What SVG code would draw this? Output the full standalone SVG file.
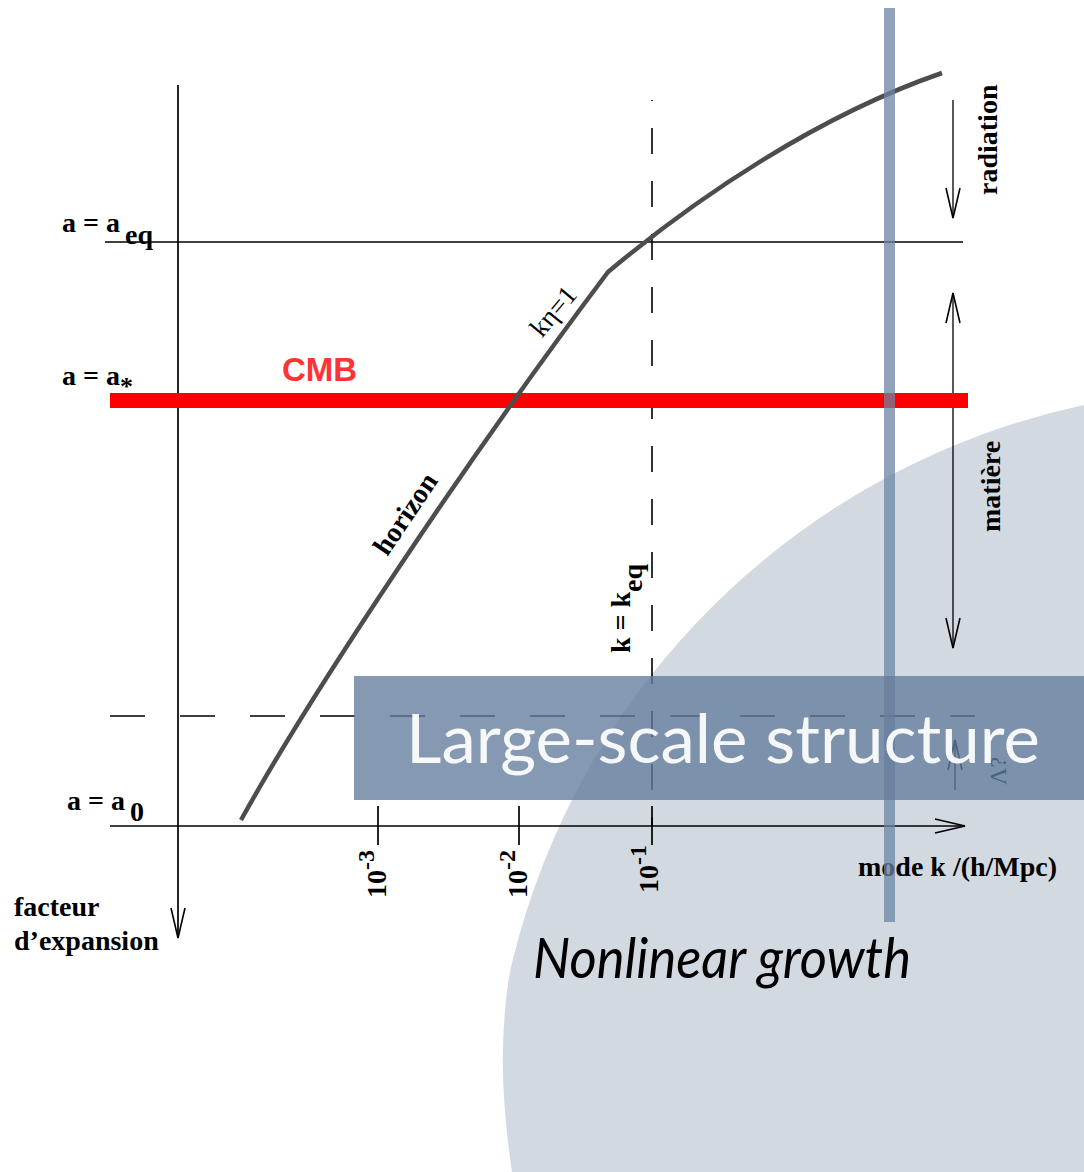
<svg xmlns="http://www.w3.org/2000/svg" width="1084" height="1172" viewBox="0 0 1084 1172">
<style>
.lbl{font-family:"Liberation Serif","Times New Roman",serif;font-weight:bold;font-size:28px;fill:#000}
.thin{stroke:#000;stroke-width:1.3;fill:none}
.ax{stroke:#000;stroke-width:1.7;fill:none}
.dash{stroke:#000;stroke-width:1.6;fill:none}
.gill{font-family:Lato,"Open Sans",sans-serif}
.sup{font-size:24px}
</style>
<defs>
<marker id="vee" markerUnits="userSpaceOnUse" viewBox="-32 -10 34 20" markerWidth="34" markerHeight="20" refX="0" refY="0" orient="auto-start-reverse" overflow="visible">
<path d="M-30,-7 L0,0 L-30,7" fill="none" stroke="#000" stroke-width="1.6"/>
</marker>
</defs>
<rect width="1084" height="1172" fill="#fff"/>
<g id="nonlinear-region">
<path d="M1084,405 A750,750 0 0 0 512,963 C505,992 502,1040 503,1075 C504,1110 508,1145 512,1172 L1084,1172 Z" fill="#d3d9e1"/>
</g>
<g id="connectors">
<line class="ax" x1="178" y1="85" x2="178" y2="938" marker-end="url(#vee)"/>
<line class="ax" x1="110" y1="826" x2="965" y2="826" marker-end="url(#vee)"/>
<line class="thin" x1="105" y1="242" x2="963" y2="242"/>
<line class="dash" x1="652" y1="100" x2="652" y2="826" stroke-dasharray="26 27" stroke-dashoffset="25"/>
<line class="dash" x1="110" y1="716" x2="975" y2="716" stroke-dasharray="35 35"/>
<line class="ax" x1="378" y1="806" x2="378" y2="845"/>
<line class="ax" x1="519" y1="806" x2="519" y2="845"/>
<line class="ax" x1="652" y1="806" x2="652" y2="845"/>
<line class="thin" x1="953" y1="100" x2="953" y2="218" marker-end="url(#vee)"/>
<line class="thin" x1="953" y1="293" x2="953" y2="648" marker-start="url(#vee)" marker-end="url(#vee)"/>
<line class="thin" x1="955" y1="790" x2="955" y2="740" marker-end="url(#vee)"/>
</g>
<g id="cmb-band">
<rect x="110" y="393" width="858" height="15" fill="#ff0000"/>
<text x="282" y="381" font-family="'Liberation Sans',Arial,sans-serif" font-weight="bold" font-size="33" fill="#ff3333">CMB</text>
</g>
<g id="horizon-curve">
<path d="M241,820 C310,695 470,455 608,272 C700,195 820,115 942,73" fill="none" stroke="#4d4d4d" stroke-width="4.5" stroke-linejoin="round"/>
<text class="lbl" transform="translate(413,519) rotate(-56)" text-anchor="middle">horizon</text>
<text transform="translate(560,317) rotate(-50)" text-anchor="middle" font-family="'Liberation Serif','Times New Roman',serif" font-size="27">kη=1</text>
</g>
<g id="axis-labels">
<text class="lbl" x="62" y="232">a = a<tspan x="125" y="244">eq</tspan></text>
<text class="lbl" x="62" y="385">a = a<tspan x="120" y="395" font-size="26">*</tspan></text>
<text class="lbl" x="67" y="810">a = a<tspan x="130" y="821">0</tspan></text>
<text class="lbl" x="14" y="916">facteur</text>
<text class="lbl" x="14" y="950">d’expansion</text>
<text class="lbl" x="858" y="876">mode k /(h/Mpc)</text>
<text class="lbl" transform="translate(386,898) rotate(-90)">10<tspan class="sup" dy="-12">-3</tspan></text>
<text class="lbl" transform="translate(527,898) rotate(-90)">10<tspan class="sup" dy="-12">-2</tspan></text>
<text class="lbl" transform="translate(658,893) rotate(-90)">10<tspan class="sup" dy="-12">-1</tspan></text>
<text class="lbl" transform="translate(630,653) rotate(-90)">k = k<tspan dy="12">eq</tspan></text>
<text class="lbl" transform="translate(997,195) rotate(-90)">radiation</text>
<text class="lbl" transform="translate(1000,532) rotate(-90)">matière</text>
<text transform="translate(1006,785) rotate(-90)" font-family="'Liberation Serif','Times New Roman',serif" font-size="24">Λ?</text>
</g>
<g id="scale-bar">
<rect x="884" y="8" width="11" height="914" fill="#6b84a3" fill-opacity="0.75"/>
</g>
<g id="large-scale-structure">
<rect x="354" y="676" width="730" height="124" fill="#647c9c" fill-opacity="0.78"/>
<text class="gill" x="406" y="763" font-size="68" fill="#fff" fill-opacity="0.93" textLength="634" lengthAdjust="spacingAndGlyphs">Large-scale structure</text>
</g>
<g id="nonlinear-growth">
<text class="gill" x="533" y="978" font-size="56" font-style="italic" fill="#000" textLength="378" lengthAdjust="spacingAndGlyphs">Nonlinear growth</text>
</g>
</svg>
